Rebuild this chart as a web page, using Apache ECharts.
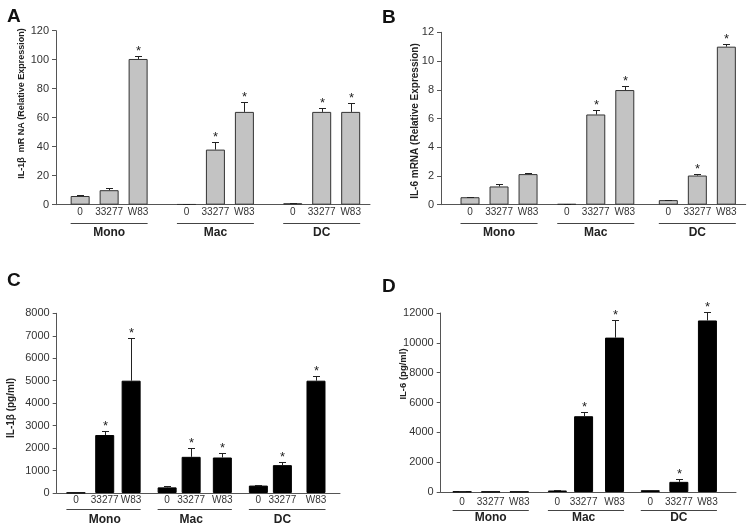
<!DOCTYPE html>
<html>
<head>
<meta charset="utf-8">
<script src="https://cdn.jsdelivr.net/npm/echarts@6/dist/echarts.min.js"></script>
<style>
html,body{margin:0;padding:0;background:#fff;}
#chart{width:750px;height:528px;}
</style>
</head>
<body>
<div id="chart"></div>
<script>
// ---- data ----
const groups = ['Mono', 'Mac', 'DC'];
const treatments = ['0', '33277', 'W83'];

// Panel A: IL-1β mRNA (relative expression)
const aMean = [6, 10, 100.5, 0.3, 38, 64, 1, 64, 64];
const aErr  = [0.5, 1.7, 2, 0.3, 5, 7, 0.3, 2.5, 6];
const aSig  = [0, 0, 1, 0, 1, 1, 0, 1, 1];
const aTicks = [0, 20, 40, 60, 80, 100, 120];

// Panel B: IL-6 mRNA (relative expression)
const bMean = [0.52, 1.27, 2.13, 0.05, 6.28, 7.98, 0.32, 2.03, 11.0];
const bErr  = [0.03, 0.14, 0.1, 0.02, 0.33, 0.27, 0.03, 0.08, 0.2];
const bSig  = [0, 0, 0, 0, 1, 1, 0, 1, 1];
const bTicks = [0, 2, 4, 6, 8, 10, 12];

// Panel C: IL-1β (pg/ml)
const cMean = [15, 2580, 5000, 250, 1610, 1580, 330, 1240, 5000];
const cErr  = [5, 190, 1880, 60, 400, 210, 40, 150, 230];
const cSig  = [0, 1, 1, 0, 1, 1, 0, 1, 1];
const cTicks = [0, 1000, 2000, 3000, 4000, 5000, 6000, 7000, 8000];

// Panel D: IL-6 (pg/ml)
const dMean = [30, 20, 20, 100, 5080, 10350, 120, 680, 11500];
const dErr  = [10, 10, 10, 40, 250, 1200, 40, 180, 580];
const dSig  = [0, 0, 0, 0, 1, 1, 0, 1, 1];
const dTicks = [0, 2000, 4000, 6000, 8000, 10000, 12000];

const titles = ['IL-1β  mR NA (Relative Expression)', 'IL-6 mRNA (Relative Expression)', 'IL-1β (pg/ml)', 'IL-6 (pg/ml)'];
const letters = ['A', 'B', 'C', 'D'];

// ---- layout (positions/styles) ----
const FONT = 'Liberation Sans, Arial, sans-serif';
const panels = [
  {mean:aMean, err:aErr, sig:aSig, ticks:aTicks, grid:{left:56, top:30.7, width:314, height:174}, slots:130, idx:[10,22,34,54,66,78,98,110,122],
   fill:'#c3c3c3', border:'#333', catMargin:3, grpMargin:22, ulOff:18, titleX:21.7, titleY:103.5, titleSize:9, letterX:7, letterY:16.5},
  {mean:bMean, err:bErr, sig:bSig, ticks:bTicks, grid:{left:441, top:32.3, width:304.7, height:172.4}, slots:126, idx:[12,24,36,52,64,76,94,106,118],
   fill:'#c3c3c3', border:'#333', catMargin:2.5, grpMargin:22, ulOff:18, titleX:415, titleY:121, titleSize:10, letterX:382, letterY:17.5},
  {mean:cMean, err:cErr, sig:cSig, ticks:cTicks, grid:{left:56.7, top:313.3, width:283.3, height:179.7}, slots:118, idx:[8,20,31,46,56,69,84,94,108],
   fill:'#000', border:'#000', catMargin:2.5, grpMargin:20.5, ulOff:16, titleX:11, titleY:408, titleSize:10, letterX:7, letterY:280.5},
  {mean:dMean, err:dErr, sig:dSig, ticks:dTicks, grid:{left:440.7, top:313, width:295.3, height:179}, slots:124, idx:[9,21,33,49,60,73,88,100,112],
   fill:'#000', border:'#000', catMargin:5, grpMargin:20, ulOff:18, titleX:403, titleY:374, titleSize:9.5, letterX:382, letterY:286.5}
];

const grid = [], xAxis = [], yAxis = [], series = [];
panels.forEach((p, k) => {
  grid.push(Object.assign({}, p.grid));
  const n = p.slots + 1;
  const cats = new Array(n).fill('');
  const grpCats = new Array(n).fill('');
  const barData = new Array(n).fill(null);
  const errData = [];
  p.idx.forEach((ci, j) => {
    cats[ci] = treatments[j % 3];
    barData[ci] = p.mean[j];
    errData.push([ci, p.mean[j], p.err[j], p.sig[j]]);
  });
  groups.forEach((g, gi) => { grpCats[p.idx[gi * 3 + 1]] = g; });

  xAxis.push({
    type: 'category', gridIndex: k, data: cats, boundaryGap: false,
    axisLine: {show: true, lineStyle: {color: '#555', width: 1}},
    axisTick: {show: false},
    axisLabel: {interval: 0, margin: p.catMargin, color: '#333', fontSize: 10, fontFamily: FONT},
    splitLine: {show: false}
  });
  xAxis.push({
    type: 'category', gridIndex: k, data: grpCats, boundaryGap: false, position: 'bottom',
    axisLine: {show: false}, axisTick: {show: false},
    axisLabel: {interval: 0, margin: p.grpMargin, color: '#222', fontSize: 12, fontWeight: 'bold', fontFamily: FONT},
    splitLine: {show: false}
  });
  yAxis.push({
    type: 'value', gridIndex: k,
    min: p.ticks[0], max: p.ticks[p.ticks.length - 1], interval: p.ticks[1] - p.ticks[0],
    axisLine: {show: true, lineStyle: {color: '#555', width: 1}},
    axisTick: {show: true, length: 4, lineStyle: {color: '#555'}},
    axisLabel: {margin: 7, color: '#333', fontSize: 11, fontFamily: FONT, formatter: v => String(v)},
    splitLine: {show: false}
  });
  series.push({
    type: 'bar', xAxisIndex: k * 2, yAxisIndex: k, data: barData, barWidth: 19,
    itemStyle: {color: p.fill, borderColor: p.border, borderWidth: 1},
    animation: false, silent: true
  });
  series.push({
    type: 'custom', xAxisIndex: k * 2, yAxisIndex: k, data: errData, clip: false,
    encode: {x: 0, y: 1}, animation: false, silent: true, z: 5,
    renderItem: function (params, api) {
      const i = api.value(0), m = api.value(1), e = api.value(2), s = api.value(3);
      const p0 = api.coord([i, m]);
      const p1 = api.coord([i, m + e]);
      const x = Math.round(p0[0]) + 0.5;
      const yt = Math.round(p1[1]) + 0.5;
      const children = [
        {type: 'line', shape: {x1: x, y1: p0[1], x2: x, y2: yt}, style: {stroke: '#222', lineWidth: 1}},
        {type: 'line', shape: {x1: x - 3.5, y1: yt, x2: x + 3.5, y2: yt}, style: {stroke: '#222', lineWidth: 1}}
      ];
      if (s) {
        children.push({type: 'text', x: x, y: yt - 5.5,
          style: {text: '*', fill: '#222', font: '13px ' + FONT, align: 'center', verticalAlign: 'middle'}});
      }
      return {type: 'group', children: children};
    }
  });
});

const chart = echarts.init(document.getElementById('chart'), null, {renderer: 'canvas', width: 750, height: 528});
chart.setOption({
  backgroundColor: '#fff',
  animation: false,
  grid: grid, xAxis: xAxis, yAxis: yAxis, series: series
});

// underlines, axis titles and panel letters
const graphic = [];
panels.forEach((p, k) => {
  const yAxisPx = p.grid.top + p.grid.height;
  for (let g = 0; g < 3; g++) {
    const xa = chart.convertToPixel({xAxisIndex: k * 2}, p.idx[g * 3]);
    const xb = chart.convertToPixel({xAxisIndex: k * 2}, p.idx[g * 3 + 2]);
    const yy = Math.round(yAxisPx + p.ulOff) + 0.5;
    graphic.push({type: 'line', silent: true,
      shape: {x1: xa - 9.5, y1: yy, x2: xb + 9.5, y2: yy},
      style: {stroke: '#444', lineWidth: 1}});
  }
  graphic.push({type: 'text', silent: true, x: p.titleX, y: p.titleY, rotation: Math.PI / 2,
    style: {text: titles[k], fill: '#222', font: 'bold ' + p.titleSize + 'px ' + FONT, align: 'center', verticalAlign: 'middle'}});
  graphic.push({type: 'text', silent: true, x: p.letterX, y: p.letterY,
    style: {text: letters[k], fill: '#111', font: 'bold 19px ' + FONT, align: 'left', verticalAlign: 'middle'}});
});
chart.setOption({graphic: graphic});
</script>
</body>
</html>
